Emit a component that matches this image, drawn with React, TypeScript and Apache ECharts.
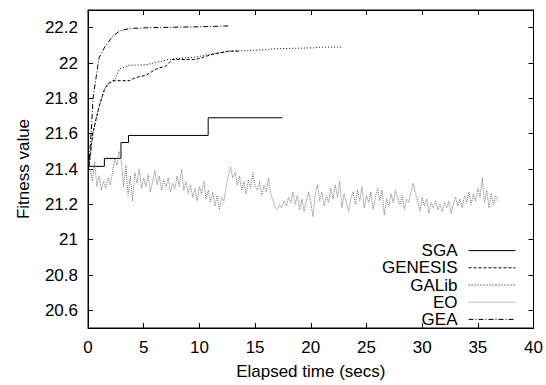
import React, { useEffect, useRef } from "react";
import * as echarts from "echarts";

// ---- data ----
const xTicks = [0, 5, 10, 15, 20, 25, 30, 35, 40];
const yTickLabels = ["20.6", "20.8", "21", "21.2", "21.4", "21.6", "21.8", "22", "22.2"];

const seriesNames = ["SGA", "GENESIS", "GALib", "EO", "GEA"];

const sgaData: [number, number][] = [
  [0.1, 21.415], [1.47, 21.46], [2.96, 21.55], [3.64, 21.59], [10.79, 21.69], [17.45, 21.69],
];

const genesisData: [number, number][] = [
  [0.1, 21.42], [0.43, 21.6], [0.73, 21.685], [1.03, 21.76], [1.47, 21.85], [1.77, 21.88],
  [2.21, 21.9], [3.7, 21.9], [4.3, 21.918], [5.2, 21.93], [6.09, 21.965], [6.98, 21.983],
  [7.57, 22.02], [9.66, 22.02], [11.14, 22.048], [12.63, 22.067], [13.5, 22.067],
];

const galibData: [number, number][] = [
  [0.1, 21.42], [0.43, 21.6], [0.73, 21.685], [1.03, 21.76], [1.47, 21.85], [1.77, 21.88],
  [2.37, 21.9], [2.81, 21.965], [3.7, 21.987], [5.2, 21.99], [7.28, 22.02], [8.17, 22.026],
  [9.66, 22.033], [11.14, 22.052], [12.63, 22.067], [14.4, 22.07], [16.2, 22.076],
  [16.5, 22.08], [20.4, 22.086], [20.7, 22.09], [22.9, 22.09],
];

const geaData: [number, number][] = [
  [0.05, 21.4], [0.3, 21.62], [0.45, 21.8], [0.8, 21.95], [1.0, 22.03], [1.5, 22.09],
  [2.2, 22.15], [2.8, 22.18], [3.7, 22.195], [5.5, 22.2], [10.0, 22.205], [12.7, 22.21],
];

// EO sampled every 0.2 s starting at 0.2 s
const eoStep = 0.2;
const eoValues = [
  21.40, 21.33, 21.44, 21.30, 21.36,
  21.28, 21.33, 21.29, 21.35, 21.31,
  21.38, 21.46, 21.42, 21.50, 21.44,
  21.30, 21.42, 21.25, 21.36, 21.22,
  21.38, 21.32, 21.40, 21.29, 21.35,
  21.30, 21.37, 21.27, 21.33, 21.39,
  21.31, 21.36, 21.28, 21.34, 21.30,
  21.35, 21.27, 21.32, 21.29, 21.36,
  21.30, 21.40, 21.28, 21.33, 21.26,
  21.31, 21.24, 21.29, 21.22, 21.30,
  21.26, 21.33, 21.23, 21.28, 21.21,
  21.27, 21.19, 21.25, 21.17, 21.24,
  21.22, 21.30, 21.36, 21.41, 21.35,
  21.38, 21.31, 21.36, 21.28, 21.33,
  21.26, 21.34, 21.29, 21.38, 21.30,
  21.28, 21.33, 21.25, 21.31, 21.27,
  21.35, 21.26, 21.22, 21.18, 21.17,
  21.20, 21.18, 21.22, 21.19, 21.24,
  21.21, 21.27, 21.20, 21.25, 21.17,
  21.23, 21.16, 21.22, 21.27, 21.21,
  21.13, 21.26, 21.31, 21.22, 21.27,
  21.19, 21.25, 21.21, 21.29, 21.23,
  21.31, 21.24, 21.33, 21.18, 21.26,
  21.21, 21.16, 21.23, 21.27, 21.20,
  21.28, 21.22, 21.30, 21.18, 21.25,
  21.21, 21.27, 21.17, 21.24, 21.29,
  21.22, 21.28, 21.14, 21.23, 21.19,
  21.26, 21.21, 21.28, 21.24, 21.20,
  21.25, 21.17, 21.23, 21.21, 21.27,
  21.32, 21.26, 21.22, 21.16, 21.24,
  21.19, 21.23, 21.15, 21.21, 21.18,
  21.22, 21.17, 21.20, 21.16, 21.21,
  21.18, 21.22, 21.15, 21.20, 21.24,
  21.19, 21.23, 21.18, 21.25, 21.21,
  21.27, 21.20, 21.26, 21.22, 21.29,
  21.24, 21.35, 21.21, 21.28, 21.18,
  21.26, 21.20, 21.25, 21.22,
];

const FONT = "'Liberation Sans', Arial, Helvetica, sans-serif";
const FS = 17;

export default function App() {
  const ref = useRef<HTMLDivElement>(null);

  useEffect(() => {
    if (!ref.current) return;
    const chart = echarts.init(ref.current, undefined, { renderer: "svg" });

    const eoData = eoValues.map((v, i) => [+(eoStep * (i + 1)).toFixed(2), v]);
    const yMin = 20.5;
    const yMax = 22.3;

    const yFmt = (v: number) => {
      const s = String(+v.toFixed(1));
      return yTickLabels.indexOf(s) >= 0 ? s : "";
    };
    const xFmt = (v: number) => (xTicks.indexOf(v) >= 0 ? String(v) : "");

    const axisLine = { show: true, onZero: false, lineStyle: { color: "#000", width: 1 } };
    const tick = { show: true, inside: true, length: 5, lineStyle: { color: "#000", width: 1 } };

    const mk = (name: string, data: any, color: string, type: any, extra: any = {}) => ({
      name,
      type: "line",
      data,
      symbol: "none",
      showSymbol: false,
      color,
      lineStyle: { color, width: 1, type },
      emphasis: { disabled: true },
      silent: true,
      ...extra,
    });

    chart.setOption({
      animation: false,
      textStyle: { fontFamily: FONT },
      grid: { left: 88, right: 9, top: 10, bottom: 53, show: true, borderColor: "#000", borderWidth: 1, backgroundColor: "transparent" },
      xAxis: [
        {
          type: "value",
          min: 0,
          max: 40,
          interval: 5,
          position: "bottom",
          axisLine,
          axisTick: tick,
          splitLine: { show: false },
          axisLabel: { color: "#000", fontSize: FS, margin: 11, fontFamily: FONT, formatter: xFmt },
          name: "Elapsed time (secs)",
          nameLocation: "middle",
          nameGap: 35,
          nameTextStyle: { color: "#000", fontSize: FS, fontFamily: FONT },
        },
        {
          type: "value",
          min: 0,
          max: 40,
          interval: 5,
          position: "top",
          axisLine,
          axisTick: tick,
          splitLine: { show: false },
          axisLabel: { show: false },
        },
      ],
      yAxis: [
        {
          type: "value",
          min: yMin,
          max: yMax,
          splitNumber: 9,
          position: "left",
          axisLine,
          axisTick: tick,
          splitLine: { show: false },
          axisLabel: { color: "#000", fontSize: FS, margin: 10, fontFamily: FONT, formatter: yFmt },
          name: "Fitness value",
          nameLocation: "middle",
          nameRotate: 90,
          nameGap: 56,
          nameTextStyle: { color: "#000", fontSize: FS, fontFamily: FONT },
        },
        {
          type: "value",
          min: yMin,
          max: yMax,
          splitNumber: 9,
          position: "right",
          axisLine,
          axisTick: tick,
          splitLine: { show: false },
          axisLabel: { show: false },
        },
      ],
      legend: {
        orient: "vertical",
        right: 30,
        top: 242,
        align: "right",
        itemWidth: 47,
        itemHeight: 10,
        itemGap: 0,
        padding: 0,
        selectedMode: false,
        data: seriesNames,
        itemStyle: { opacity: 0 },
        lineStyle: { width: 1 },
        textStyle: { color: "#000", fontSize: FS, lineHeight: 17.2, fontFamily: FONT, padding: [0, 6, 0, 0] },
      },
      series: [
        mk(seriesNames[0], sgaData, "#000", "solid", { step: "end" }),
        mk(seriesNames[1], genesisData, "#000", [3, 2]),
        mk(seriesNames[2], galibData, "#000", [1, 2]),
        mk(seriesNames[3], eoData, "#777", [1, 1]),
        mk(seriesNames[4], geaData, "#000", [5, 2, 1, 2]),
        { name: "_top", type: "line", data: [], xAxisIndex: 1, yAxisIndex: 1, symbol: "none", silent: true },
      ],
    });

    return () => chart.dispose();
  }, []);

  return (
    <div
      ref={ref}
      style={{ position: "fixed", left: 0, top: 0, width: 546, height: 385, background: "#fff" }}
    />
  );
}
